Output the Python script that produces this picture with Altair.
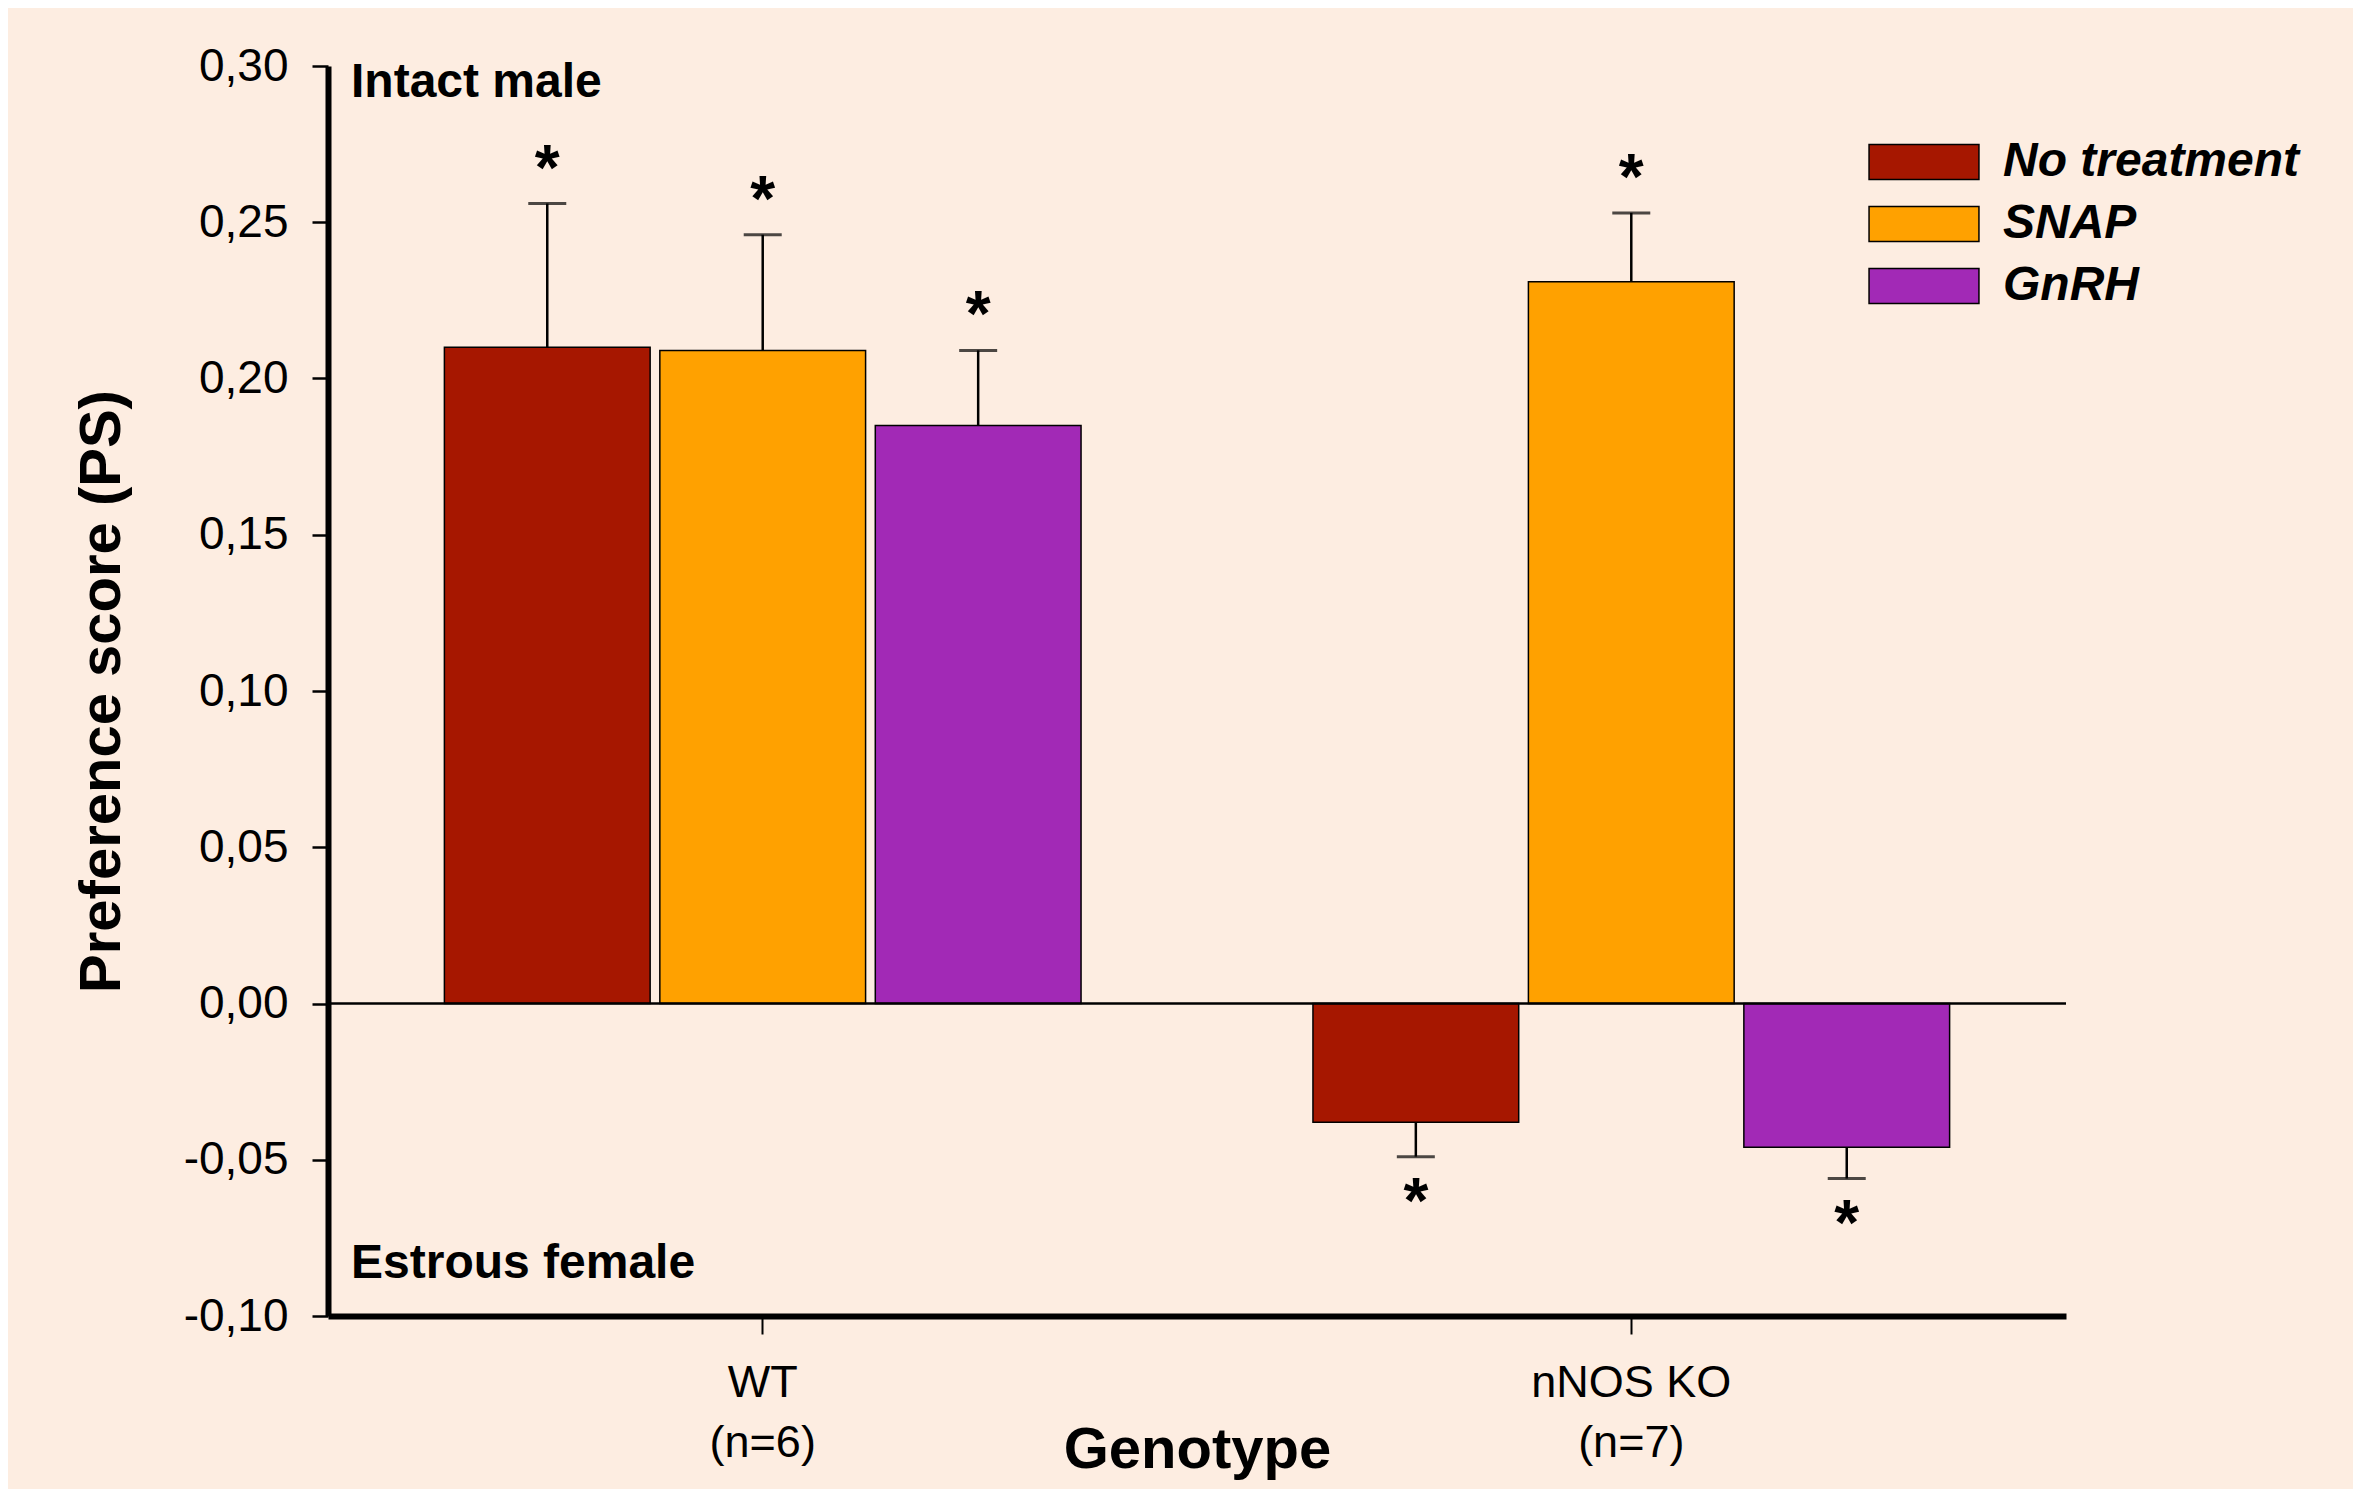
import altair as alt
import pandas as pd

genotypes = ["WT", "nNOS KO"]
group_n = ["(n=6)", "(n=7)"]
treatments = ["No treatment", "SNAP", "GnRH"]
colors = ["#A61700", "#FFA100", "#A229B6"]

# mean preference score per treatment, in genotype order
no_treatment = [0.210, -0.038]
snap = [0.209, 0.231]
gnrh = [0.185, -0.046]
# standard errors
no_treatment_se = [0.046, 0.011]
snap_se = [0.037, 0.022]
gnrh_se = [0.024, 0.010]
stars = ["*", "*", "*", "*", "*", "*"]

y_ticks = [-0.10, -0.05, 0.00, 0.05, 0.10, 0.15, 0.20, 0.25, 0.30]

rows = []
for t, vals, ses in [(treatments[0], no_treatment, no_treatment_se),
                     (treatments[1], snap, snap_se),
                     (treatments[2], gnrh, gnrh_se)]:
    for g, v, s in zip(genotypes, vals, ses):
        rows.append({"genotype": g, "treatment": t, "value": v, "se": s,
                     "err": v + (s if v >= 0 else -s)})
df = pd.DataFrame(rows)
df["star"] = stars

FONT = "Liberation Sans"
W, H = 1738, 1250

label_expr = " : ".join(
    f"datum.value == '{g}' ? ['{g}', '{n}']" for g, n in zip(genotypes, group_n)
) + " : datum.value"

x_enc = alt.X(
    "genotype:N",
    sort=genotypes,
    scale=alt.Scale(paddingInner=0.267, paddingOuter=0.134),
    axis=alt.Axis(
        title="Genotype",
        labelAngle=0,
        labelExpr=label_expr,
        labelFont=FONT,
        labelFontSize=45,
        labelLineHeight=60,
        labelPadding=26,
        labelLimit=0,
        labelColor="black",
        tickSize=18,
        tickWidth=2,
        tickColor="black",
        domainWidth=6,
        domainColor="black",
        titleFont=FONT,
        titleFontSize=58,
        titleFontWeight="bold",
        titleColor="black",
        titlePadding=-44,
    ),
)
xoff = alt.XOffset("treatment:N", sort=treatments,
                   scale=alt.Scale(paddingInner=0.045, paddingOuter=0))
y_scale = alt.Scale(domain=[-0.10, 0.30], nice=False, zero=False)
color_enc = alt.Color(
    "treatment:N",
    sort=treatments,
    scale=alt.Scale(domain=treatments, range=colors),
    legend=alt.Legend(
        title=None,
        orient="none",
        legendX=1572,
        legendY=72,
        padding=0,
        symbolType="M -3.14 -1 L 3.14 -1 L 3.14 1 L -3.14 1 Z",
        symbolSize=1225,
        symbolStrokeColor="black",
        symbolStrokeWidth=1.5,
        symbolOpacity=1,
        labelOffset=55,
        labelLimit=0,
        labelFont=FONT,
        labelFontSize=48,
        labelFontStyle="italic",
        labelFontWeight="bold",
        labelColor="black",
        rowPadding=14,
    ),
)

y_axis = alt.Axis(
    title="Preference score (PS)",
    values=y_ticks,
    labelExpr="(datum.value < -0.0001 ? '-' : '') + replace(format(abs(datum.value), '.2f'), '.', ',')",
    labelFont=FONT,
    labelFontSize=46,
    labelColor="black",
    labelPadding=24,
    tickSize=16,
    tickWidth=2.5,
    tickColor="black",
    domainWidth=6,
    domainColor="black",
    grid=False,
    titleFont=FONT,
    titleFontSize=58,
    titleFontWeight="bold",
    titleColor="black",
    titlePadding=52,
)

base = alt.Chart(df)

bars = base.mark_bar(stroke="black", strokeWidth=1.5).encode(
    x=x_enc,
    xOffset=xoff,
    y=alt.Y("value:Q", scale=y_scale, axis=y_axis),
    y2=alt.datum(0),
    color=color_enc,
)

err = base.mark_rule(color="black", strokeWidth=2.5).encode(
    x=alt.X("genotype:N", sort=genotypes),
    xOffset=xoff,
    y=alt.Y("value:Q", scale=y_scale),
    y2="err:Q",
)

caps = base.mark_tick(color="black", orient="horizontal", size=38, thickness=3).encode(
    x=alt.X("genotype:N", sort=genotypes),
    xOffset=xoff,
    y=alt.Y("err:Q", scale=y_scale),
)

stars_pos = base.transform_filter("datum.value >= 0").mark_text(
    font=FONT, fontSize=64, fontWeight="bold", color="black",
    baseline="alphabetic", dy=-14,
).encode(
    x=alt.X("genotype:N", sort=genotypes),
    xOffset=xoff,
    y=alt.Y("err:Q", scale=y_scale),
    text="star:N",
)

stars_neg = base.transform_filter("datum.value < 0").mark_text(
    font=FONT, fontSize=64, fontWeight="bold", color="black",
    baseline="alphabetic", dy=66,
).encode(
    x=alt.X("genotype:N", sort=genotypes),
    xOffset=xoff,
    y=alt.Y("err:Q", scale=y_scale),
    text="star:N",
)

zero = alt.Chart(pd.DataFrame({"z": [0.0]})).mark_rule(color="black", strokeWidth=2.5).encode(
    y=alt.Y("z:Q", scale=y_scale)
)

ann_df = pd.DataFrame({"label": ["Intact male", "Estrous female"], "pos": [0.2945, -0.0835]})
ann = alt.Chart(ann_df).mark_text(
    font=FONT, fontSize=48, fontWeight="bold", color="black",
    align="left", baseline="middle",
).encode(
    x=alt.value(23),
    y=alt.Y("pos:Q", scale=y_scale),
    text="label:N",
)

chart = alt.layer(bars, zero, err, caps, stars_pos, stars_neg, ann).properties(
    width=W,
    height=H,
    background="#FDEDE1",
    autosize=alt.AutoSizeParams(type="none"),
    padding={"left": 320, "top": 58, "right": 287, "bottom": 173},
).configure_view(stroke=None)

chart.save("out.html", embed_options={"renderer": "svg", "actions": False})
